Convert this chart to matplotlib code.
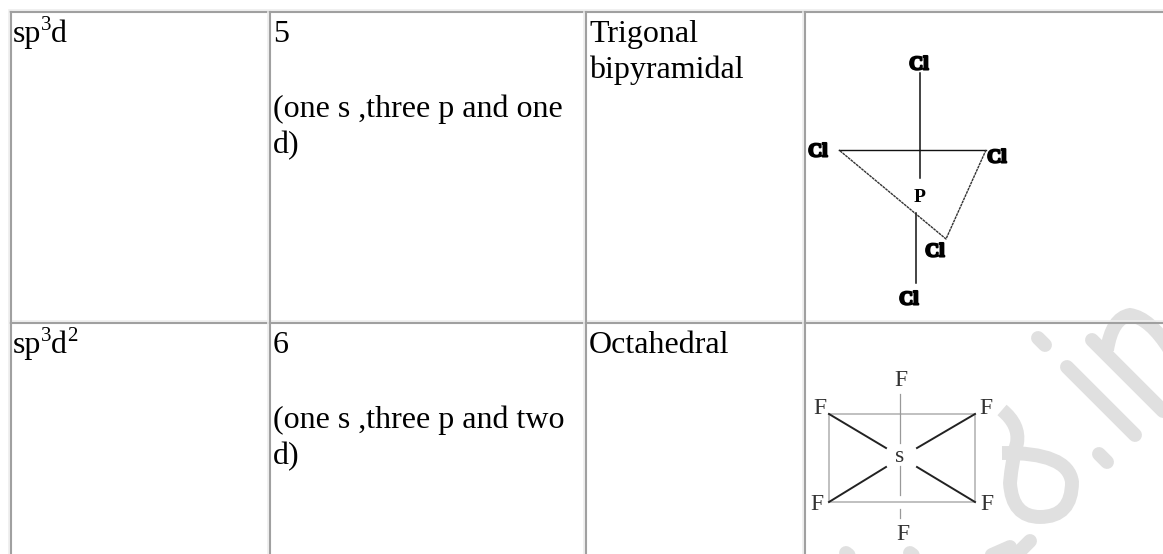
import matplotlib
matplotlib.use('Agg')
import matplotlib.pyplot as plt
import matplotlib.patheffects as pe
from matplotlib.path import Path
from matplotlib.patches import PathPatch

# table contents
hybrid = ['sp', 'sp']
hybrid_sup = [['3'], ['3', '2']]
counts = ['5', '6']
orbitals = [['(one s ,three p and one', 'd)'], ['(one s ,three p and two', 'd)']]
shapes = [['Trigonal', 'bipyramidal'], ['Octahedral']]

# grid lines, pixel positions
col_x = [11, 270, 586, 805]
row_y = [12, 323]
row_end = 554
right_end = 1163

# PCl5 sketch
pcl_labels = ['Cl', 'Cl', 'Cl', 'Cl', 'Cl', 'P']
pcl_label_x = [919, 818, 997, 935, 909, 920]
pcl_label_y = [65, 152, 158, 252, 300, 197]
pcl_axis_x = [920, 920]
pcl_axis_y = [73, 178]
pcl_low_x = [916, 916]
pcl_low_y = [213, 283]
pcl_tri_x = [839, 986, 946, 839]
pcl_tri_y = [150, 150, 239, 150]

# SF6 sketch
sf_x = [829, 975]
sf_y = [414, 502]
sf_labels = ['F', 'F', 'F', 'F', 'F', 'F', 's']
sf_label_x = [901, 820, 986, 817, 987, 903, 900]
sf_label_y = [381, 409, 409, 505, 505, 534, 457]

# watermark strokes
mark_strokes = [([1038, 1045], [338, 345]),
                ([1067, 1135], [367, 435]),
                ([1092, 1163], [340, 411]),
                ([1099, 1107], [454, 462]),
                ([1030, 1005], [541, 566]),
                ([985, 1010], [558, 547]),
                ([910, 925], [553, 564]),
                ([846, 860], [553, 564])]
mark_curves = [[(1107, 350), (1112, 318), (1130, 315), (1150, 318), (1170, 350)],
               [(1002, 410), (1020, 425), (1017, 443), (1012, 460), (1010, 483),
                (1012, 517), (1040, 517), (1072, 517), (1072, 482), (1068, 452), (1002, 453)]]

line_grey = '#a0a0a0'
pale = '#eeeeee'
mark_grey = '#e0e0e0'
text_size = 23

plt.rcParams['font.family'] = ['Liberation Serif', 'DejaVu Serif']

fig = plt.figure(figsize=(11.63, 5.54), dpi=100)
ax = fig.add_axes([0, 0, 1, 1])
ax.set_xlim(0, 1163)
ax.set_ylim(554, 0)
ax.axis('off')

# watermark goes under everything
for xs, ys in mark_strokes:
    ax.plot(xs, ys, color=mark_grey, lw=10, solid_capstyle='round', zorder=1)
for pts in mark_curves:
    codes = [Path.MOVETO] + [Path.CURVE3] * (len(pts) - 1)
    ax.add_patch(PathPatch(Path(pts, codes), fc='none', ec=mark_grey, lw=10, capstyle='butt', zorder=1))

# table grid
for y in row_y:
    ax.plot([9, right_end], [y - 2, y - 2], color=pale, lw=1.2, zorder=2)
    ax.plot([10, right_end], [y, y], color=line_grey, lw=1.5, zorder=2)
for x in col_x:
    ax.plot([x - 2, x - 2], [row_y[0], row_end], color=pale, lw=1.2, zorder=2)
    ax.plot([x, x], [row_y[0], row_end], color=line_grey, lw=1.5, zorder=2)

line_gap = 36
for r, top in enumerate(row_y):
    base = top + 30
    # first column, with superscripts
    ax.text(13, base, hybrid[r], fontsize=text_size, va='baseline')
    ax.text(41, base - 12, hybrid_sup[r][0], fontsize=15, va='baseline')
    ax.text(51, base, 'd', fontsize=text_size, va='baseline')
    if len(hybrid_sup[r]) > 1:
        ax.text(67, base - 12, hybrid_sup[r][1], fontsize=15, va='baseline')
    ax.text(col_x[1] + 3, base, counts[r], fontsize=text_size, va='baseline')
    for i, s in enumerate(orbitals[r]):
        ax.text(col_x[1] + 3, base + 75 + i * line_gap, s, fontsize=text_size, va='baseline')
    for i, s in enumerate(shapes[r]):
        ax.text(col_x[2] + 3, base + i * line_gap, s, fontsize=text_size, va='baseline')

# PCl5 drawing
ax.plot(pcl_axis_x, pcl_axis_y, color='#111111', lw=1.1, zorder=3)
ax.plot(pcl_low_x, pcl_low_y, color='#111111', lw=1.1, zorder=3)
ax.plot(pcl_tri_x[:2], pcl_tri_y[:2], color='#111111', lw=1.0, zorder=3)
ax.plot(pcl_tri_x[1:], pcl_tri_y[1:], color='#333333', lw=1.0, ls=(0, (2, 0.5)), zorder=3)
for s, x, y in zip(pcl_labels, pcl_label_x, pcl_label_y):
    t = ax.text(x, y, s, fontsize=14, fontweight='bold', ha='center', va='center', zorder=4)
    if s == 'Cl':
        t.set_path_effects([pe.withStroke(linewidth=1.5, foreground='black')])

# SF6 drawing
ax.plot([sf_x[0], sf_x[1], sf_x[1], sf_x[0], sf_x[0]], [sf_y[0], sf_y[0], sf_y[1], sf_y[1], sf_y[0]],
        color='#b5b5b5', lw=1.2, zorder=3)
ax.plot([900, 900], [394, 443], color='#999999', lw=0.9, zorder=3)
ax.plot([900, 900], [466, 495], color='#999999', lw=0.9, zorder=3)
ax.plot([900, 900], [509, 518], color='#999999', lw=0.9, zorder=3)
ax.plot([829, 886], [414, 448], color='#222222', lw=1.4, zorder=3)
ax.plot([975, 917], [414, 448], color='#222222', lw=1.4, zorder=3)
ax.plot([829, 886], [502, 467], color='#222222', lw=1.4, zorder=3)
ax.plot([975, 917], [502, 467], color='#222222', lw=1.4, zorder=3)
for s, x, y in zip(sf_labels, sf_label_x, sf_label_y):
    ax.text(x, y, s, fontsize=17, color='#333333', ha='center', va='center', zorder=4)

fig.savefig('out.png', dpi=100)
